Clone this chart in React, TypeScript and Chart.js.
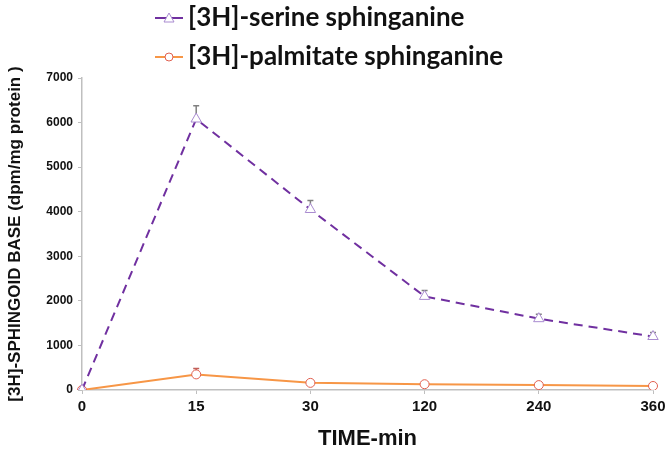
import React, { useEffect, useRef } from "react";
import { Chart, registerables } from "chart.js";

Chart.register(...registerables);

const categories = ["0", "15", "30", "120", "240", "360"];
const serineValues = [0, 6080, 4050, 2100, 1600, 1200];
const serineErrors = [0, 300, 200, 130, 100, 90];
const palmitateValues = [0, 350, 160, 130, 110, 90];
const palmitateErrors = [0, 130, 60, 30, 30, 25];
const seriesLabels = ["[3H]-serine sphinganine", "[3H]-palmitate sphinganine"];
const yTicks = [0, 1000, 2000, 3000, 4000, 5000, 6000, 7000];

const errorBarPlugin = {
  id: "errorBars",
  beforeDatasetsDraw(chart: any) {
    const ctx = chart.ctx;
    const yScale = chart.scales.y;
    chart.data.datasets.forEach((ds: any, di: number) => {
      const meta = chart.getDatasetMeta(di);
      const errs: number[] = ds.errors || [];
      ctx.save();
      ctx.strokeStyle = ds.errorColor;
      ctx.lineWidth = 1.5;
      meta.data.forEach((pt: any, i: number) => {
        const e = errs[i];
        if (!e) return;
        const v = ds.data[i];
        const y0 = yScale.getPixelForValue(v);
        const y1 = yScale.getPixelForValue(v + e);
        ctx.beginPath();
        ctx.moveTo(pt.x, y0);
        ctx.lineTo(pt.x, y1);
        ctx.moveTo(pt.x - 3, y1);
        ctx.lineTo(pt.x + 3, y1);
        ctx.stroke();
      });
      ctx.restore();
    });
  },
};

const legendPlugin = {
  id: "customLegend",
  afterDraw(chart: any) {
    const ctx = chart.ctx;
    const rows = [18, 57];
    chart.data.datasets.forEach((ds: any, di: number) => {
      const y = rows[di];
      const x0 = 155;
      const x1 = 183;
      ctx.save();
      ctx.strokeStyle = ds.borderColor;
      ctx.lineWidth = 2;
      ctx.setLineDash([]);
      ctx.beginPath();
      ctx.moveTo(x0, y);
      ctx.lineTo(x1, y);
      ctx.stroke();
      const cx = (x0 + x1) / 2;
      ctx.fillStyle = "#ffffff";
      ctx.strokeStyle = ds.pointBorderColor;
      ctx.lineWidth = 1;
      ctx.beginPath();
      if (ds.pointStyle === "triangle") {
        ctx.moveTo(cx, y - 5);
        ctx.lineTo(cx + 5, y + 4);
        ctx.lineTo(cx - 5, y + 4);
        ctx.closePath();
      } else {
        ctx.arc(cx, y, 4, 0, Math.PI * 2);
      }
      ctx.fill();
      ctx.stroke();
      ctx.fillStyle = "#111111";
      ctx.font = "bold 26px Lato";
      ctx.textBaseline = "middle";
      ctx.textAlign = "left";
      ctx.fillText(ds.label, 188, y);
      ctx.restore();
    });
  },
};

export default function App() {
  const ref = useRef<HTMLCanvasElement>(null);
  useEffect(() => {
    if (!ref.current) return;
    const chart = new Chart(ref.current, {
      type: "line",
      data: {
        labels: categories,
        datasets: [
          {
            label: seriesLabels[0],
            data: serineValues,
            errors: serineErrors,
            errorColor: "#808080",
            borderColor: "#7030A0",
            borderWidth: 2,
            borderDash: [9, 6],
            pointStyle: "triangle",
            pointRadius: 6,
            pointBorderColor: "#A98BD0",
            pointBackgroundColor: "#ffffff",
            pointBorderWidth: 1,
            tension: 0,
          } as any,
          {
            label: seriesLabels[1],
            data: palmitateValues,
            errors: palmitateErrors,
            errorColor: "#C0605A",
            borderColor: "#F79646",
            borderWidth: 2,
            pointStyle: "circle",
            pointRadius: 4.5,
            pointBorderColor: "#E06050",
            pointBackgroundColor: "#ffffff",
            pointBorderWidth: 1,
            tension: 0,
          } as any,
        ],
      },
      options: {
        animation: false,
        responsive: false,
        maintainAspectRatio: false,
        layout: { padding: { top: 78, right: 0, left: 0, bottom: 0 } },
        plugins: {
          legend: { display: false },
          tooltip: { enabled: false },
        },
        scales: {
          x: {
            offset: false,
            grid: { display: true, drawOnChartArea: false, tickLength: 4, color: "#BFBFBF" },
            border: { color: "#BFBFBF", width: 1.5 },
            ticks: {
              color: "#111111",
              font: { family: "Liberation Sans", size: 15, weight: "bold" },
              padding: 4,
              maxRotation: 0,
            },
            title: {
              display: true,
              text: "TIME-min",
              color: "#111111",
              font: { family: "Liberation Sans", size: 22, weight: "bold" },
              padding: { top: 4, bottom: 0 },
            },
            afterFit(scale: any) {
              scale.height = 62;
              scale.paddingRight = 13;
            },
          },
          y: {
            min: 0,
            max: 7000,
            afterBuildTicks(scale: any) {
              scale.ticks = yTicks.map((v) => ({ value: v }));
            },
            grid: { display: true, drawOnChartArea: false, tickLength: 4, color: "#BFBFBF" },
            border: { color: "#BFBFBF", width: 1.5 },
            ticks: {
              color: "#111111",
              font: { family: "Liberation Sans", size: 12, weight: "bold" },
              padding: 5,
              callback: (v: any) => String(v),
            },
            title: {
              display: true,
              text: "[3H]-SPHINGOID BASE (dpm/mg protein )",
              color: "#111111",
              font: { family: "Liberation Sans", size: 17, weight: "bold" },
              padding: { top: 5, bottom: 0 },
            },
            afterFit(scale: any) {
              scale.width = 82;
            },
          },
        },
      },
      plugins: [errorBarPlugin, legendPlugin],
    });
    return () => chart.destroy();
  }, []);
  return (
    <div style={{ position: "fixed", left: 0, top: 0, width: 666, height: 452, background: "#fff" }}>
      <canvas ref={ref} width={666} height={452} style={{ width: 666, height: 452, display: "block" }} />
    </div>
  );
}
